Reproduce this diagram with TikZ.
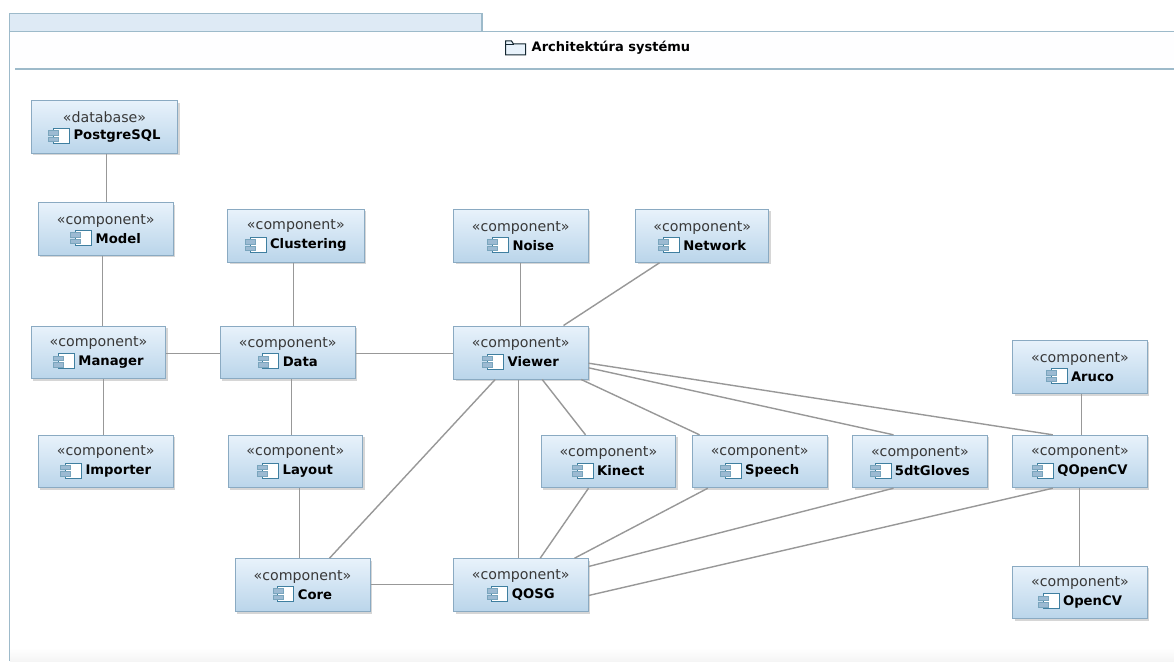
\documentclass[tikz,border=0pt]{standalone}
\usepackage{fontspec}
\setmainfont{DejaVu Sans}
\usetikzlibrary{shadows,calc}
\definecolor{frameline}{HTML}{9DBACA}
\definecolor{boxline}{HTML}{8AAAC2}
\definecolor{boxtop}{HTML}{E8F2FB}
\definecolor{boxbot}{HTML}{BAD5EA}
\definecolor{tabfill}{HTML}{DEEAF5}
\definecolor{connline}{HTML}{989898}
\definecolor{iconline}{HTML}{3F7FA0}
\definecolor{iconport}{HTML}{9CBAD2}
\newlength\nmw
\newcommand{\stereofont}{\fontsize{14.2}{18.5}\selectfont\color{black!78}}
\newcommand{\namefont}{\fontsize{13.2}{18.5}\selectfont\bfseries}
\tikzset{
  compbox/.style={rectangle,draw=boxline,line width=1pt,top color=boxtop,bottom color=boxbot,
    inner sep=0pt,align=center,text=black,
    drop shadow={shadow xshift=2pt,shadow yshift=-2pt,fill=black!45,opacity=0.35}},
  conn/.style={draw=connline,line width=1.4pt},
  frameln/.style={draw=frameline,line width=1.3pt},
  iconbody/.style={draw=iconline,line width=0.9pt,fill=white},
  iconpin/.style={draw=iconline!70,line width=0.5pt,fill=iconport}
}
\newcommand{\comp}[7]{%
  \pgfmathsetmacro{\cwx}{(#2+#4)/2}\pgfmathsetmacro{\cwy}{(#3+#5)/2}%
  \pgfmathsetmacro{\cww}{#4-#2}\pgfmathsetmacro{\cwh}{#5-#3}%
  \node[compbox,minimum width=\cww pt,minimum height=\cwh pt] (#1) at (\cwx,\cwy)
    {{\stereofont «#6»}\\[5pt]{\namefont\hspace*{25pt}#7}};
  \pgfinterruptpicture\settowidth{\nmw}{\namefont #7}\global\nmw=\nmw\endpgfinterruptpicture
  \coordinate (#1ic) at ([xshift=-0.5\nmw-12.5pt,yshift=-9pt]#1.center);
  \draw[iconbody] ([xshift=5pt,yshift=7.5pt]#1ic) rectangle ([xshift=21pt,yshift=-7.5pt]#1ic);
  \draw[iconpin] ([yshift=5.5pt]#1ic) rectangle ([xshift=10pt,yshift=1pt]#1ic);
  \draw[iconpin] ([yshift=-1pt]#1ic) rectangle ([xshift=10pt,yshift=-5.5pt]#1ic);
}
\begin{document}
\begin{tikzpicture}[x=1pt,y=-1pt]
\useasboundingbox (0,0) rectangle (1174,661);
\fill[white] (0,0) rectangle (1174,661);
% frame
\shade[top color=white,bottom color=black!4!white] (10,648) rectangle (1174,661);
\fill[tabfill] (10,14) rectangle (482,31.5);
\fill[white!97!boxtop] (10,31.5) rectangle (1174,69);
\draw[frameln] (9.5,661) -- (9.5,13.5) -- (482,13.5) -- (482,31.5);
\draw[frameln] (9.5,31.5) -- (1174,31.5);
\draw[frameln] (15,69) -- (1174,69);
% title
\node[font=\fontsize{13}{15}\selectfont\bfseries,anchor=west,inner sep=0pt] (title) at (531.5,48) {Architektúra systému};
\coordinate (fold) at ([xshift=-26pt]title.west);
\draw[draw=black!70!iconline,line width=1pt,fill=boxtop]
  ([yshift=7pt]fold) -- ([xshift=6pt,yshift=7pt]fold) -- ([xshift=8pt,yshift=4pt]fold)
  -- ([xshift=20pt,yshift=4pt]fold) -- ([xshift=20pt,yshift=-7pt]fold) -- ([yshift=-7pt]fold) -- cycle;
\draw[draw=black!70!iconline,line width=0.8pt] ([yshift=4pt]fold) -- ([xshift=8pt,yshift=4pt]fold);
% components
\comp{postgres}{31.3}{100.7}{177.7}{153.3}{database}{PostgreSQL}
\comp{model}{38.3}{202.7}{173.3}{255}{component}{Model}
\comp{manager}{31.3}{326}{165.7}{378.7}{component}{Manager}
\comp{importer}{38.3}{435.3}{173.3}{487.7}{component}{Importer}
\comp{clustering}{227.7}{209.3}{364}{262.3}{component}{Clustering}
\comp{data}{220.3}{326}{355.3}{378.7}{component}{Data}
\comp{layout}{228}{435.3}{362.7}{487.7}{component}{Layout}
\comp{core}{235}{558.7}{370}{611.7}{component}{Core}
\comp{noise}{453.5}{209.3}{588}{262.3}{component}{Noise}
\comp{network}{635.7}{209.3}{768.7}{262.3}{component}{Network}
\comp{viewer}{453.5}{326}{588}{379}{component}{Viewer}
\comp{qosg}{453.5}{558.7}{588}{611.7}{component}{QOSG}
\comp{kinect}{541}{435.3}{675.7}{487.7}{component}{Kinect}
\comp{speech}{692.3}{435.3}{827}{487.7}{component}{Speech}
\comp{gloves}{852.7}{435.3}{987}{487.7}{component}{5dtGloves}
\comp{qopencv}{1012.7}{435.3}{1147.3}{487.7}{component}{QOpenCV}
\comp{aruco}{1012.7}{340}{1147.3}{393.7}{component}{Aruco}
\comp{opencv}{1012.7}{566}{1147.3}{618.7}{component}{OpenCV}
% connectors
\draw[conn] ([xshift=75.7pt]postgres.south west) -- ([xshift=68.7pt]model.north west);
\draw[conn] ([xshift=64.7pt]model.south west) -- ([xshift=71.7pt]manager.north west);
\draw[conn] ([xshift=72.7pt]manager.south west) -- ([xshift=65.7pt]importer.north west);
\draw[conn] ([yshift=-28pt]manager.north east) -- ([yshift=-28pt]data.north west);
\draw[conn] ([xshift=66.3pt]clustering.south west) -- ([xshift=73.7pt]data.north west);
\draw[conn] ([xshift=71.7pt]data.south west) -- ([xshift=64pt]layout.north west);
\draw[conn] ([xshift=72pt]layout.south west) -- ([xshift=65pt]core.north west);
\draw[conn] ([yshift=-28pt]data.north east) -- ([yshift=-28pt]viewer.north west);
\draw[conn] ([yshift=-26.3pt]core.north east) -- ([yshift=-26.3pt]qosg.north west);
\draw[conn] ([xshift=67.5pt]noise.south west) -- ([xshift=67.5pt]viewer.north west);
\draw[conn] ([xshift=24.3pt]network.south west) -- ([xshift=110.5pt]viewer.north west);
\draw[conn] ([xshift=42.2pt]viewer.south west) -- ([xshift=95pt]core.north west);
\draw[conn] ([xshift=65.5pt]viewer.south west) -- ([xshift=65.5pt]qosg.north west);
\draw[conn] ([xshift=89.2pt]viewer.south west) -- ([xshift=45pt]kinect.north west);
\draw[conn] ([xshift=128.2pt]viewer.south west) -- ([xshift=7.7pt]speech.north west);
\draw[conn] ([yshift=-42.3pt]viewer.north east) -- ([xshift=41.3pt]gloves.north west);
\draw[conn] ([yshift=-37.7pt]viewer.north east) -- ([xshift=40.6pt]qopencv.north west);
\draw[conn] ([xshift=69.3pt]aruco.south west) -- ([xshift=69.3pt]qopencv.north west);
\draw[conn] ([xshift=67.3pt]qopencv.south west) -- ([xshift=67.3pt]opencv.north west);
\draw[conn] ([xshift=48pt]kinect.south west) -- ([xshift=87.2pt]qosg.north west);
\draw[conn] ([xshift=16pt]speech.south west) -- ([xshift=121.5pt]qosg.north west);
\draw[conn] ([xshift=41.3pt]gloves.south west) -- ([yshift=-8.3pt]qosg.north east);
\draw[conn] ([xshift=40.6pt]qopencv.south west) -- ([yshift=-37.3pt]qosg.north east);
\end{tikzpicture}
\end{document}
